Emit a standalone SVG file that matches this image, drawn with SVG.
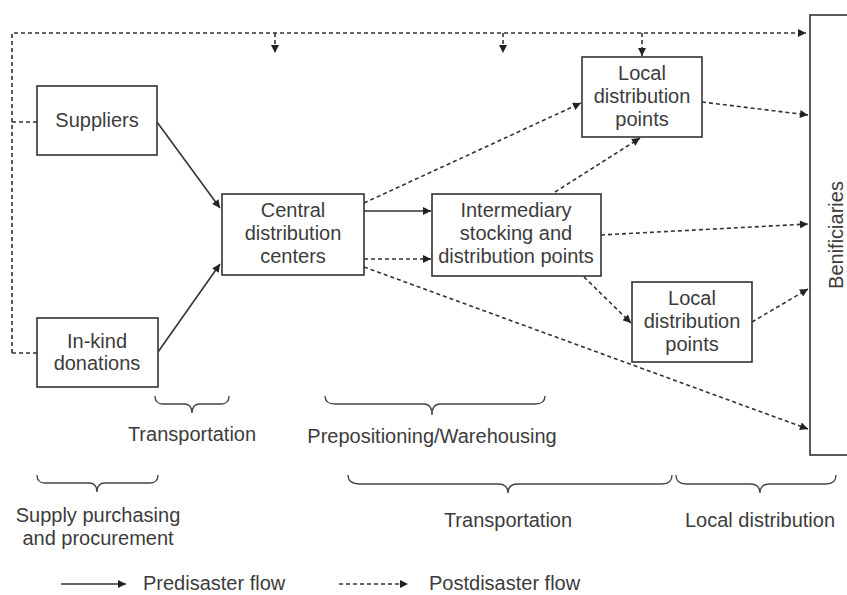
<svg xmlns="http://www.w3.org/2000/svg" width="847" height="595" viewBox="0 0 847 595">
<defs>
<marker id="ah" viewBox="0 0 10 10" refX="10" refY="5" markerWidth="9" markerHeight="8" markerUnits="userSpaceOnUse" orient="auto">
<path d="M0,0 L10,5 L0,10 z" fill="#222"/>
</marker>
</defs>
<style>
.box{fill:#fff;stroke:#333;stroke-width:1.6}
.t{font-family:"Liberation Sans",Arial,sans-serif;font-size:20px;fill:#3c3c3c;text-anchor:middle}
.l{font-family:"Liberation Sans",Arial,sans-serif;font-size:20px;fill:#3c3c3c}
.s{fill:none;stroke:#333;stroke-width:1.6}
.d{fill:none;stroke:#333;stroke-width:1.6;stroke-dasharray:4 3}
.br{fill:none;stroke:#444;stroke-width:1.3}
</style>
<rect width="847" height="595" fill="#fff"/>
<g id="connectors">
<path class="d" d="M12,353 L12,33 L806,33" marker-end="url(#ah)"/>
<path class="d" d="M12,122 L37,122"/>
<path class="d" d="M12,353 L37,353"/>
<path class="d" d="M275,33 L275,53" marker-end="url(#ah)"/>
<path class="d" d="M503,33 L503,53" marker-end="url(#ah)"/>
<path class="d" d="M642,33 L642,56" marker-end="url(#ah)"/>
<path class="s" d="M157,122 L220,208" marker-end="url(#ah)"/>
<path class="s" d="M158,352 L220,264" marker-end="url(#ah)"/>
<path class="s" d="M364,211 L431,211" marker-end="url(#ah)"/>
<path class="d" d="M364,259 L431,259" marker-end="url(#ah)"/>
<path class="d" d="M364,203 L581,103" marker-end="url(#ah)"/>
<path class="d" d="M364,267 L808,429" marker-end="url(#ah)"/>
<path class="d" d="M555,192 L640,138" marker-end="url(#ah)"/>
<path class="d" d="M601,235 L808,224" marker-end="url(#ah)"/>
<path class="d" d="M584,277 L631,323" marker-end="url(#ah)"/>
<path class="d" d="M702,102 L808,115" marker-end="url(#ah)"/>
<path class="d" d="M752,322 L808,289" marker-end="url(#ah)"/>
</g>
<g id="suppliers">
<rect class="box" x="37" y="86" width="120" height="69"/>
<text class="t" x="97" y="127">Suppliers</text>
</g>
<g id="inkind">
<rect class="box" x="37" y="318" width="121" height="69"/>
<text class="t" x="97" y="348">In-kind</text>
<text class="t" x="97" y="370">donations</text>
</g>
<g id="central">
<rect class="box" x="222" y="194" width="142" height="81"/>
<text class="t" x="293" y="217">Central</text>
<text class="t" x="293" y="240">distribution</text>
<text class="t" x="293" y="263">centers</text>
</g>
<g id="intermediary">
<rect class="box" x="432" y="194" width="169" height="82"/>
<text class="t" x="516" y="217">Intermediary</text>
<text class="t" x="516" y="240">stocking and</text>
<text class="t" x="516" y="263">distribution points</text>
</g>
<g id="local1">
<rect class="box" x="582" y="57" width="120" height="80"/>
<text class="t" x="642" y="80">Local</text>
<text class="t" x="642" y="103">distribution</text>
<text class="t" x="642" y="126">points</text>
</g>
<g id="local2">
<rect class="box" x="632" y="282" width="120" height="80"/>
<text class="t" x="692" y="305">Local</text>
<text class="t" x="692" y="328">distribution</text>
<text class="t" x="692" y="351">points</text>
</g>
<g id="beneficiaries">
<rect class="box" x="810" y="15" width="50" height="440"/>
<text class="t" transform="translate(843,235) rotate(-90)">Benificiaries</text>
</g>
<g id="braces">
<path class="br" d="M155,396 Q155,404 163,404 L184,404 Q192,404 192,413 Q192,404 200,404 L221,404 Q229,404 229,396"/>
<path class="br" d="M325,396 Q325,404 335,404 L424,404 Q432,404 432,415 Q432,404 440,404 L535,404 Q545,404 545,396"/>
<path class="br" d="M37,475 Q37,483 45,483 L89,483 Q97,483 97,492 Q97,483 105,483 L150,483 Q158,483 158,475"/>
<path class="br" d="M348,475 Q348,484 360,484 L498,484 Q508,484 508,493 Q508,484 518,484 L662,484 Q672,484 672,475"/>
<path class="br" d="M676,475 Q676,484 686,484 L750,484 Q760,484 760,493 Q760,484 770,484 L826,484 Q836,484 836,475"/>
</g>
<g id="labels">
<text class="t" x="192" y="441">Transportation</text>
<text class="t" x="432" y="443">Prepositioning/Warehousing</text>
<text class="t" x="98" y="522">Supply purchasing</text>
<text class="t" x="98" y="545">and procurement</text>
<text class="t" x="508" y="527">Transportation</text>
<text class="t" x="760" y="527">Local distribution</text>
</g>
<g id="legend">
<path class="s" d="M61,584 L126,584" marker-end="url(#ah)"/>
<text class="l" x="143" y="590">Predisaster flow</text>
<path class="d" d="M339,584 L408,584" marker-end="url(#ah)"/>
<text class="l" x="429" y="590">Postdisaster flow</text>
</g>
</svg>
